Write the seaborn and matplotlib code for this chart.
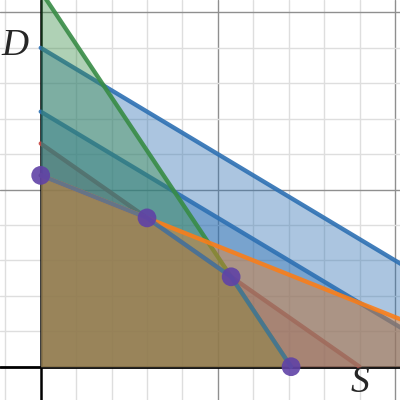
import numpy as np
import pandas as pd
import matplotlib
matplotlib.use("Agg")
import matplotlib.pyplot as plt
import seaborn as sns

# Constraint boundary lines: D = intercept + slope * S  (listed in drawing order)
line_names = ["red", "blue_top", "blue_mid", "green", "orange"]
d_intercepts = [6.3, 9.0, 7.2, 10.6, 5.4]
slopes = [-0.7, -0.6, -0.6, -1.5, -0.4]
line_colors = ["#c74440", "#2d70b3", "#2d70b3", "#388c46", "#fa7e19"]

x_label = "S"
y_label = "D"

XMIN, XMAX = -1.149, 10.141
YMIN, YMAX = -0.94, 10.35

sns.set_style("white")
fig = plt.figure(figsize=(4, 4), dpi=100)
ax = fig.add_axes([0, 0, 1, 1])
ax.set_xlim(XMIN, XMAX)
ax.set_ylim(YMIN, YMAX)
for s in ax.spines.values():
    s.set_visible(False)
ax.set_xticks([])
ax.set_yticks([])

# grid
for gx in range(-1, 11):
    if gx == 0:
        continue
    major = gx % 5 == 0
    ax.axvline(gx, color="#8f8f8f" if major else "#dedede", lw=1.0, zorder=0.5)
for gy in range(0, 11):
    if gy == 0:
        continue
    major = gy % 5 == 0
    ax.axhline(gy, color="#8f8f8f" if major else "#dedede", lw=1.0, zorder=0.5)
ax.axhline(0, color="black", lw=2.0, zorder=1)
ax.axvline(0, color="black", lw=1.8, zorder=1)

z = 2
params = dict(zip(line_names, zip(d_intercepts, slopes)))
for name, b, m, c in zip(line_names, d_intercepts, slopes, line_colors):
    s_int = -b / m
    s_end = min(s_int, XMAX + 1)
    s = np.linspace(0, s_end, 200)
    d = b + m * s
    ax.fill_between(s, 0, d, color=c, alpha=0.4, lw=0, zorder=z)
    z += 1
    df = pd.DataFrame({"S": [0, s_end], "D": [b, b + m * s_end]})
    sns.lineplot(data=df, x="S", y="D", ax=ax, color=c, linewidth=3.1, alpha=0.9,
                 solid_capstyle="round", zorder=z, legend=False)
    z += 1


def intersect(n1, n2):
    b1, m1 = params[n1]
    b2, m2 = params[n2]
    s = (b2 - b1) / (m1 - m2)
    return s, b1 + m1 * s


v1 = (0.0, params["orange"][0])
v2 = intersect("orange", "red")
v3 = intersect("red", "green")
v4 = (-params["green"][0] / params["green"][1], 0.0)
verts = pd.DataFrame([v1, v2, v3, v4], columns=["S", "D"])

sns.lineplot(data=verts, x="S", y="D", ax=ax, sort=False, color="#2d70b3",
             alpha=0.7, linewidth=3.1, solid_capstyle="round", zorder=z, legend=False)
z += 1
ax.scatter(verts["S"], verts["D"], s=13.5 ** 2, color="#6042a6", alpha=0.9,
           edgecolors="none", zorder=z)

ax.set_xlabel("")
ax.set_ylabel("")
ax.text(-0.725, 9.05, y_label, fontsize=27, family="Liberation Serif",
        style="italic", ha="center", va="center", zorder=z + 1)
ax.text(9.01, -0.46, x_label, fontsize=27, family="Liberation Serif",
        style="italic", ha="center", va="center", zorder=z + 1)

fig.savefig("out.png", dpi=100)
